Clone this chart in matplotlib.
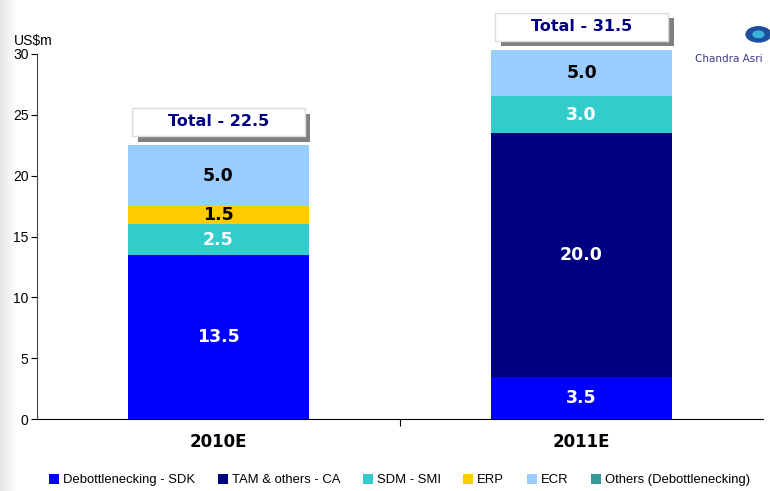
import matplotlib.pyplot as plt
import matplotlib.patheffects as pe
import numpy as np
from matplotlib.patches import Rectangle, Circle

years = ["2010E", "2011E"]
series = ["Debottlenecking - SDK", "TAM & others - CA", "SDM - SMI", "ERP", "ECR",
          "Others (Debottlenecking)"]
sdk = [13.5, 3.5]
tam = [0.0, 20.0]
sdm = [2.5, 3.0]
erp = [1.5, 0.0]
ecr = [5.0, 5.0]
others = [0.0, 0.0]
totals = [22.5, 31.5]

colors = ["#0000FF", "#000080", "#33CCCC", "#FFCC00", "#99CCFF", "#339999"]
label_colors = ["white", "white", "white", "black", "black", "white"]

fig = plt.figure(figsize=(7.7, 4.91), dpi=100)

# faint gray strip on the left edge
strip = fig.add_axes([0, 0, 0.022, 1])
strip.imshow(np.linspace(0.9, 1.0, 50)[None, :], cmap="gray", vmin=0, vmax=1,
             aspect="auto")
strip.axis("off")

ax = fig.add_axes([0.048, 0.146, 0.943, 0.752])
ymax = 30.3
x = np.arange(len(years))
bottom = np.zeros(len(years))
for name, vals, c, lc in zip(series, [sdk, tam, sdm, erp, ecr, others], colors,
                             label_colors):
    vals = np.array(vals)
    ax.bar(x, vals, 0.5, bottom=bottom, color=c, label=name)
    for xi, v, b in zip(x, vals, bottom):
        if v > 0:
            mid = (b + min(b + v, ymax)) / 2
            ax.text(xi, mid, f"{v:.1f}", ha="center", va="center", color=lc,
                    fontsize=12.5, fontweight="bold", family="DejaVu Sans")
    bottom += vals

# total boxes
for xi, t in zip(x, totals):
    yc = min(t, ymax) + 1.9
    box = Rectangle((xi - 0.238, yc - 1.15), 0.476, 2.3, facecolor="white",
                    edgecolor="#dddddd", lw=1, clip_on=False, zorder=5)
    box.set_path_effects([pe.SimplePatchShadow(offset=(4, -4), shadow_rgbFace="#808080",
                                               alpha=1), pe.Normal()])
    ax.add_patch(box)
    ax.text(xi, yc, f"Total - {t}", ha="center", va="center", color="#000080",
            fontsize=11.5, fontweight="bold", family="DejaVu Sans", zorder=6,
            clip_on=False)

ax.set_xlim(-0.5, 1.5)
ax.set_ylim(0, ymax)
ax.set_yticks(range(0, 31, 5))
ax.spines["left"].set_bounds(0, 30)
ax.spines["left"].set_color("#444444")
ax.spines["top"].set_visible(False)
ax.spines["right"].set_visible(False)
ax.tick_params(axis="y", direction="out", length=4, labelsize=10, pad=2)
for lab in ax.get_yticklabels():
    lab.set_family("Liberation Sans")
ax.set_xticks([0.5])
ax.set_xticklabels([""])
ax.set_xticks(x, minor=True)
ax.set_xticklabels(years, minor=True, fontsize=12, fontweight="bold",
                   family="DejaVu Sans")
ax.tick_params(axis="x", which="major", direction="out", length=5)
ax.tick_params(axis="x", which="minor", length=0, pad=10)

fig.text(0.018, 0.903, "US$m", fontsize=10, family="Liberation Sans", va="bottom")

handles, labels = ax.get_legend_handles_labels()
fig.legend(handles, labels, loc="center", bbox_to_anchor=(0.519, 0.022), ncol=6,
           frameon=False, prop={"family": "Liberation Sans", "size": 9.4},
           handlelength=0.75, handleheight=0.75, handletextpad=0.3, columnspacing=1.75)

# logo
fig.text(0.903, 0.88, "Chandra Asri", fontsize=7.5, color="#3a3a8c",
         family="DejaVu Sans", va="center")
logo = Circle((0.985, 0.93), 0.017, transform=fig.transFigure, facecolor="#1f4fa0",
              edgecolor="none")
fig.add_artist(logo)
logo2 = Circle((0.985, 0.93), 0.008, transform=fig.transFigure, facecolor="#3bb0d8",
               edgecolor="none")
fig.add_artist(logo2)

fig.savefig("out.png", dpi=100)
